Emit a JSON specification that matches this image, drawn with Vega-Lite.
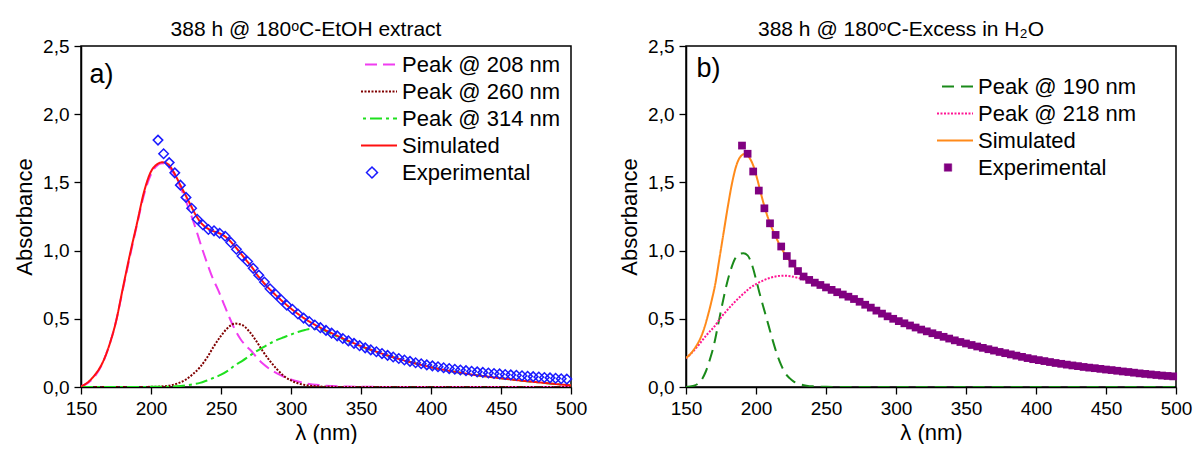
{
  "$schema": "https://vega.github.io/schema/vega-lite/v6.json",
  "background": "white",
  "padding": {"left": 12, "top": 18, "right": 0, "bottom": 0},
  "spacing": 29,
  "resolve": {"scale": {"color": "independent", "strokeDash": "independent", "x": "independent", "y": "independent"}, "legend": {"color": "independent"}},
  "config": {
    "font": "Liberation Sans",
    "view": {"stroke": "black", "strokeWidth": 1.5},
    "title": {"font": "Liberation Sans", "fontSize": 21, "fontWeight": "normal", "color": "black", "offset": -3},
    "axis": {
      "domainColor": "black", "domainWidth": 1.5, "tickColor": "black", "tickWidth": 1.3, "tickSize": 7,
      "labelFont": "Liberation Sans", "labelFontSize": 19, "labelColor": "black", "labelPadding": 5,
      "titleFont": "Liberation Sans", "titleFontSize": 22, "titleFontWeight": "normal", "titleColor": "black",
      "grid": false, "labelFlush": false, "labelOverlap": false
    },
    "legend": {"labelFont": "Liberation Sans", "labelFontSize": 22, "labelColor": "black"}
  },
  "datasets": {
    "a_curves": [
      {"series": "Peak @ 208 nm", "x": 150, "y": 0.005}, {"series": "Peak @ 208 nm", "x": 155, "y": 0.03}, {"series": "Peak @ 208 nm", "x": 160, "y": 0.08}, {"series": "Peak @ 208 nm", "x": 165, "y": 0.165}, {"series": "Peak @ 208 nm", "x": 170, "y": 0.3}, {"series": "Peak @ 208 nm", "x": 175, "y": 0.48}, {"series": "Peak @ 208 nm", "x": 180, "y": 0.72}, {"series": "Peak @ 208 nm", "x": 185, "y": 0.96}, {"series": "Peak @ 208 nm", "x": 190, "y": 1.19}, {"series": "Peak @ 208 nm", "x": 195, "y": 1.41}, {"series": "Peak @ 208 nm", "x": 200, "y": 1.56}, {"series": "Peak @ 208 nm", "x": 204, "y": 1.62}, {"series": "Peak @ 208 nm", "x": 208, "y": 1.64}, {"series": "Peak @ 208 nm", "x": 212, "y": 1.62}, {"series": "Peak @ 208 nm", "x": 216, "y": 1.57}, {"series": "Peak @ 208 nm", "x": 220, "y": 1.49}, {"series": "Peak @ 208 nm", "x": 224, "y": 1.39}, {"series": "Peak @ 208 nm", "x": 228, "y": 1.28}, {"series": "Peak @ 208 nm", "x": 232, "y": 1.16}, {"series": "Peak @ 208 nm", "x": 236, "y": 1.03}, {"series": "Peak @ 208 nm", "x": 240, "y": 0.91}, {"series": "Peak @ 208 nm", "x": 244, "y": 0.8}, {"series": "Peak @ 208 nm", "x": 248, "y": 0.71}, {"series": "Peak @ 208 nm", "x": 252, "y": 0.61}, {"series": "Peak @ 208 nm", "x": 256, "y": 0.51}, {"series": "Peak @ 208 nm", "x": 260, "y": 0.42}, {"series": "Peak @ 208 nm", "x": 264, "y": 0.35}, {"series": "Peak @ 208 nm", "x": 268, "y": 0.3}, {"series": "Peak @ 208 nm", "x": 272, "y": 0.26}, {"series": "Peak @ 208 nm", "x": 276, "y": 0.21}, {"series": "Peak @ 208 nm", "x": 280, "y": 0.17}, {"series": "Peak @ 208 nm", "x": 285, "y": 0.13}, {"series": "Peak @ 208 nm", "x": 290, "y": 0.1}, {"series": "Peak @ 208 nm", "x": 295, "y": 0.075}, {"series": "Peak @ 208 nm", "x": 300, "y": 0.055}, {"series": "Peak @ 208 nm", "x": 305, "y": 0.04}, {"series": "Peak @ 208 nm", "x": 310, "y": 0.028}, {"series": "Peak @ 208 nm", "x": 320, "y": 0.014}, {"series": "Peak @ 208 nm", "x": 330, "y": 0.007}, {"series": "Peak @ 208 nm", "x": 340, "y": 0.003}, {"series": "Peak @ 208 nm", "x": 360, "y": 0.001}, {"series": "Peak @ 208 nm", "x": 400, "y": 0}, {"series": "Peak @ 208 nm", "x": 450, "y": 0}, {"series": "Peak @ 208 nm", "x": 500, "y": 0},
      {"series": "Peak @ 260 nm", "x": 150, "y": 0}, {"series": "Peak @ 260 nm", "x": 200, "y": 0.001}, {"series": "Peak @ 260 nm", "x": 210, "y": 0.006}, {"series": "Peak @ 260 nm", "x": 215, "y": 0.014}, {"series": "Peak @ 260 nm", "x": 220, "y": 0.03}, {"series": "Peak @ 260 nm", "x": 225, "y": 0.055}, {"series": "Peak @ 260 nm", "x": 230, "y": 0.095}, {"series": "Peak @ 260 nm", "x": 235, "y": 0.145}, {"series": "Peak @ 260 nm", "x": 240, "y": 0.215}, {"series": "Peak @ 260 nm", "x": 245, "y": 0.3}, {"series": "Peak @ 260 nm", "x": 250, "y": 0.375}, {"series": "Peak @ 260 nm", "x": 255, "y": 0.435}, {"series": "Peak @ 260 nm", "x": 260, "y": 0.465}, {"series": "Peak @ 260 nm", "x": 265, "y": 0.455}, {"series": "Peak @ 260 nm", "x": 270, "y": 0.41}, {"series": "Peak @ 260 nm", "x": 275, "y": 0.34}, {"series": "Peak @ 260 nm", "x": 280, "y": 0.26}, {"series": "Peak @ 260 nm", "x": 285, "y": 0.19}, {"series": "Peak @ 260 nm", "x": 290, "y": 0.13}, {"series": "Peak @ 260 nm", "x": 295, "y": 0.08}, {"series": "Peak @ 260 nm", "x": 300, "y": 0.048}, {"series": "Peak @ 260 nm", "x": 305, "y": 0.027}, {"series": "Peak @ 260 nm", "x": 310, "y": 0.015}, {"series": "Peak @ 260 nm", "x": 320, "y": 0.004}, {"series": "Peak @ 260 nm", "x": 330, "y": 0.001}, {"series": "Peak @ 260 nm", "x": 350, "y": 0}, {"series": "Peak @ 260 nm", "x": 400, "y": 0}, {"series": "Peak @ 260 nm", "x": 500, "y": 0},
      {"series": "Peak @ 314 nm", "x": 150, "y": 0}, {"series": "Peak @ 314 nm", "x": 200, "y": 0.001}, {"series": "Peak @ 314 nm", "x": 210, "y": 0.002}, {"series": "Peak @ 314 nm", "x": 218, "y": 0.005}, {"series": "Peak @ 314 nm", "x": 225, "y": 0.012}, {"series": "Peak @ 314 nm", "x": 230, "y": 0.02}, {"series": "Peak @ 314 nm", "x": 235, "y": 0.03}, {"series": "Peak @ 314 nm", "x": 240, "y": 0.048}, {"series": "Peak @ 314 nm", "x": 245, "y": 0.068}, {"series": "Peak @ 314 nm", "x": 250, "y": 0.09}, {"series": "Peak @ 314 nm", "x": 255, "y": 0.12}, {"series": "Peak @ 314 nm", "x": 260, "y": 0.16}, {"series": "Peak @ 314 nm", "x": 265, "y": 0.19}, {"series": "Peak @ 314 nm", "x": 270, "y": 0.225}, {"series": "Peak @ 314 nm", "x": 275, "y": 0.26}, {"series": "Peak @ 314 nm", "x": 280, "y": 0.29}, {"series": "Peak @ 314 nm", "x": 285, "y": 0.32}, {"series": "Peak @ 314 nm", "x": 290, "y": 0.345}, {"series": "Peak @ 314 nm", "x": 295, "y": 0.365}, {"series": "Peak @ 314 nm", "x": 300, "y": 0.385}, {"series": "Peak @ 314 nm", "x": 305, "y": 0.403}, {"series": "Peak @ 314 nm", "x": 310, "y": 0.418}, {"series": "Peak @ 314 nm", "x": 314, "y": 0.426}, {"series": "Peak @ 314 nm", "x": 320, "y": 0.426}, {"series": "Peak @ 314 nm", "x": 330, "y": 0.383}, {"series": "Peak @ 314 nm", "x": 340, "y": 0.34}, {"series": "Peak @ 314 nm", "x": 350, "y": 0.298}, {"series": "Peak @ 314 nm", "x": 360, "y": 0.261}, {"series": "Peak @ 314 nm", "x": 370, "y": 0.227}, {"series": "Peak @ 314 nm", "x": 380, "y": 0.197}, {"series": "Peak @ 314 nm", "x": 390, "y": 0.17}, {"series": "Peak @ 314 nm", "x": 400, "y": 0.145}, {"series": "Peak @ 314 nm", "x": 410, "y": 0.124}, {"series": "Peak @ 314 nm", "x": 420, "y": 0.106}, {"series": "Peak @ 314 nm", "x": 430, "y": 0.09}, {"series": "Peak @ 314 nm", "x": 440, "y": 0.077}, {"series": "Peak @ 314 nm", "x": 450, "y": 0.064}, {"series": "Peak @ 314 nm", "x": 460, "y": 0.052}, {"series": "Peak @ 314 nm", "x": 470, "y": 0.041}, {"series": "Peak @ 314 nm", "x": 480, "y": 0.031}, {"series": "Peak @ 314 nm", "x": 490, "y": 0.021}, {"series": "Peak @ 314 nm", "x": 500, "y": 0.012},
      {"series": "Simulated", "x": 150, "y": 0.005}, {"series": "Simulated", "x": 155, "y": 0.035}, {"series": "Simulated", "x": 160, "y": 0.09}, {"series": "Simulated", "x": 165, "y": 0.17}, {"series": "Simulated", "x": 170, "y": 0.3}, {"series": "Simulated", "x": 175, "y": 0.48}, {"series": "Simulated", "x": 180, "y": 0.73}, {"series": "Simulated", "x": 185, "y": 0.975}, {"series": "Simulated", "x": 190, "y": 1.2}, {"series": "Simulated", "x": 195, "y": 1.43}, {"series": "Simulated", "x": 200, "y": 1.58}, {"series": "Simulated", "x": 204, "y": 1.63}, {"series": "Simulated", "x": 208, "y": 1.648}, {"series": "Simulated", "x": 212, "y": 1.635}, {"series": "Simulated", "x": 216, "y": 1.58}, {"series": "Simulated", "x": 220, "y": 1.5}, {"series": "Simulated", "x": 224, "y": 1.42}, {"series": "Simulated", "x": 228, "y": 1.34}, {"series": "Simulated", "x": 232, "y": 1.26}, {"series": "Simulated", "x": 236, "y": 1.2}, {"series": "Simulated", "x": 240, "y": 1.165}, {"series": "Simulated", "x": 244, "y": 1.145}, {"series": "Simulated", "x": 248, "y": 1.13}, {"series": "Simulated", "x": 252, "y": 1.11}, {"series": "Simulated", "x": 256, "y": 1.075}, {"series": "Simulated", "x": 260, "y": 1.03}, {"series": "Simulated", "x": 264, "y": 0.98}, {"series": "Simulated", "x": 268, "y": 0.93}, {"series": "Simulated", "x": 272, "y": 0.88}, {"series": "Simulated", "x": 276, "y": 0.82}, {"series": "Simulated", "x": 280, "y": 0.77}, {"series": "Simulated", "x": 290, "y": 0.665}, {"series": "Simulated", "x": 300, "y": 0.575}, {"series": "Simulated", "x": 310, "y": 0.5}, {"series": "Simulated", "x": 320, "y": 0.44}, {"series": "Simulated", "x": 330, "y": 0.39}, {"series": "Simulated", "x": 340, "y": 0.343}, {"series": "Simulated", "x": 350, "y": 0.3}, {"series": "Simulated", "x": 360, "y": 0.262}, {"series": "Simulated", "x": 370, "y": 0.228}, {"series": "Simulated", "x": 380, "y": 0.197}, {"series": "Simulated", "x": 390, "y": 0.17}, {"series": "Simulated", "x": 400, "y": 0.145}, {"series": "Simulated", "x": 410, "y": 0.124}, {"series": "Simulated", "x": 420, "y": 0.106}, {"series": "Simulated", "x": 430, "y": 0.09}, {"series": "Simulated", "x": 440, "y": 0.077}, {"series": "Simulated", "x": 450, "y": 0.064}, {"series": "Simulated", "x": 460, "y": 0.052}, {"series": "Simulated", "x": 470, "y": 0.041}, {"series": "Simulated", "x": 480, "y": 0.031}, {"series": "Simulated", "x": 490, "y": 0.021}, {"series": "Simulated", "x": 500, "y": 0.012}
    ],
    "a_exp": [
      {"x": 205, "y": 1.81}, {"x": 209, "y": 1.71}, {"x": 213, "y": 1.645}, {"x": 217, "y": 1.57}, {"x": 221, "y": 1.48}, {"x": 225, "y": 1.39}, {"x": 229, "y": 1.31}, {"x": 233, "y": 1.23}, {"x": 237, "y": 1.19}, {"x": 241, "y": 1.155}, {"x": 245, "y": 1.145}, {"x": 249, "y": 1.127}, {"x": 253, "y": 1.105}, {"x": 257, "y": 1.06}, {"x": 261, "y": 1.01}, {"x": 265, "y": 0.96}, {"x": 269, "y": 0.92}, {"x": 273, "y": 0.87}, {"x": 277, "y": 0.82}, {"x": 281, "y": 0.77}, {"x": 285, "y": 0.72}, {"x": 289, "y": 0.68}, {"x": 293, "y": 0.64}, {"x": 297, "y": 0.6}, {"x": 301, "y": 0.57}, {"x": 305, "y": 0.535}, {"x": 309, "y": 0.505}, {"x": 313, "y": 0.48}, {"x": 317, "y": 0.455}, {"x": 321, "y": 0.435}, {"x": 325, "y": 0.415}, {"x": 329, "y": 0.395}, {"x": 333, "y": 0.375}, {"x": 337, "y": 0.356}, {"x": 341, "y": 0.338}, {"x": 345, "y": 0.32}, {"x": 349, "y": 0.303}, {"x": 353, "y": 0.287}, {"x": 357, "y": 0.272}, {"x": 361, "y": 0.258}, {"x": 365, "y": 0.245}, {"x": 369, "y": 0.232}, {"x": 373, "y": 0.22}, {"x": 377, "y": 0.209}, {"x": 381, "y": 0.198}, {"x": 385, "y": 0.188}, {"x": 389, "y": 0.178}, {"x": 393, "y": 0.17}, {"x": 397, "y": 0.162}, {"x": 401, "y": 0.155}, {"x": 405, "y": 0.148}, {"x": 409, "y": 0.141}, {"x": 413, "y": 0.135}, {"x": 417, "y": 0.13}, {"x": 421, "y": 0.125}, {"x": 425, "y": 0.12}, {"x": 429, "y": 0.115}, {"x": 433, "y": 0.111}, {"x": 437, "y": 0.107}, {"x": 441, "y": 0.103}, {"x": 445, "y": 0.099}, {"x": 449, "y": 0.096}, {"x": 453, "y": 0.092}, {"x": 457, "y": 0.089}, {"x": 461, "y": 0.086}, {"x": 465, "y": 0.082}, {"x": 469, "y": 0.079}, {"x": 473, "y": 0.076}, {"x": 477, "y": 0.073}, {"x": 481, "y": 0.07}, {"x": 485, "y": 0.067}, {"x": 489, "y": 0.064}, {"x": 493, "y": 0.061}, {"x": 497, "y": 0.058}
    ],
    "b_curves": [
      {"series": "Peak @ 190 nm", "x": 150, "y": 0}, {"series": "Peak @ 190 nm", "x": 155, "y": 0.008}, {"series": "Peak @ 190 nm", "x": 158, "y": 0.02}, {"series": "Peak @ 190 nm", "x": 161, "y": 0.05}, {"series": "Peak @ 190 nm", "x": 164, "y": 0.11}, {"series": "Peak @ 190 nm", "x": 167, "y": 0.2}, {"series": "Peak @ 190 nm", "x": 170, "y": 0.31}, {"series": "Peak @ 190 nm", "x": 173, "y": 0.46}, {"series": "Peak @ 190 nm", "x": 176, "y": 0.61}, {"series": "Peak @ 190 nm", "x": 179, "y": 0.75}, {"series": "Peak @ 190 nm", "x": 182, "y": 0.86}, {"series": "Peak @ 190 nm", "x": 185, "y": 0.94}, {"series": "Peak @ 190 nm", "x": 188, "y": 0.975}, {"series": "Peak @ 190 nm", "x": 191, "y": 0.98}, {"series": "Peak @ 190 nm", "x": 194, "y": 0.965}, {"series": "Peak @ 190 nm", "x": 197, "y": 0.9}, {"series": "Peak @ 190 nm", "x": 200, "y": 0.79}, {"series": "Peak @ 190 nm", "x": 203, "y": 0.67}, {"series": "Peak @ 190 nm", "x": 206, "y": 0.56}, {"series": "Peak @ 190 nm", "x": 209, "y": 0.45}, {"series": "Peak @ 190 nm", "x": 212, "y": 0.34}, {"series": "Peak @ 190 nm", "x": 215, "y": 0.24}, {"series": "Peak @ 190 nm", "x": 218, "y": 0.16}, {"series": "Peak @ 190 nm", "x": 221, "y": 0.1}, {"series": "Peak @ 190 nm", "x": 224, "y": 0.065}, {"series": "Peak @ 190 nm", "x": 227, "y": 0.04}, {"series": "Peak @ 190 nm", "x": 231, "y": 0.022}, {"series": "Peak @ 190 nm", "x": 236, "y": 0.01}, {"series": "Peak @ 190 nm", "x": 242, "y": 0.004}, {"series": "Peak @ 190 nm", "x": 250, "y": 0.001}, {"series": "Peak @ 190 nm", "x": 270, "y": 0}, {"series": "Peak @ 190 nm", "x": 350, "y": 0}, {"series": "Peak @ 190 nm", "x": 500, "y": 0},
      {"series": "Peak @ 218 nm", "x": 150, "y": 0.21}, {"series": "Peak @ 218 nm", "x": 155, "y": 0.26}, {"series": "Peak @ 218 nm", "x": 160, "y": 0.32}, {"series": "Peak @ 218 nm", "x": 165, "y": 0.385}, {"series": "Peak @ 218 nm", "x": 170, "y": 0.44}, {"series": "Peak @ 218 nm", "x": 175, "y": 0.51}, {"series": "Peak @ 218 nm", "x": 180, "y": 0.57}, {"series": "Peak @ 218 nm", "x": 185, "y": 0.625}, {"series": "Peak @ 218 nm", "x": 190, "y": 0.675}, {"series": "Peak @ 218 nm", "x": 195, "y": 0.72}, {"series": "Peak @ 218 nm", "x": 200, "y": 0.755}, {"series": "Peak @ 218 nm", "x": 205, "y": 0.78}, {"series": "Peak @ 218 nm", "x": 210, "y": 0.8}, {"series": "Peak @ 218 nm", "x": 215, "y": 0.812}, {"series": "Peak @ 218 nm", "x": 220, "y": 0.816}, {"series": "Peak @ 218 nm", "x": 225, "y": 0.812}, {"series": "Peak @ 218 nm", "x": 230, "y": 0.8}, {"series": "Peak @ 218 nm", "x": 235, "y": 0.785}, {"series": "Peak @ 218 nm", "x": 240, "y": 0.768}, {"series": "Peak @ 218 nm", "x": 245, "y": 0.75}, {"series": "Peak @ 218 nm", "x": 250, "y": 0.732}, {"series": "Peak @ 218 nm", "x": 260, "y": 0.69}, {"series": "Peak @ 218 nm", "x": 270, "y": 0.645}, {"series": "Peak @ 218 nm", "x": 280, "y": 0.593}, {"series": "Peak @ 218 nm", "x": 290, "y": 0.538}, {"series": "Peak @ 218 nm", "x": 300, "y": 0.492}, {"series": "Peak @ 218 nm", "x": 310, "y": 0.451}, {"series": "Peak @ 218 nm", "x": 320, "y": 0.414}, {"series": "Peak @ 218 nm", "x": 330, "y": 0.381}, {"series": "Peak @ 218 nm", "x": 340, "y": 0.348}, {"series": "Peak @ 218 nm", "x": 350, "y": 0.319}, {"series": "Peak @ 218 nm", "x": 360, "y": 0.292}, {"series": "Peak @ 218 nm", "x": 370, "y": 0.267}, {"series": "Peak @ 218 nm", "x": 380, "y": 0.244}, {"series": "Peak @ 218 nm", "x": 390, "y": 0.221}, {"series": "Peak @ 218 nm", "x": 400, "y": 0.2}, {"series": "Peak @ 218 nm", "x": 410, "y": 0.183}, {"series": "Peak @ 218 nm", "x": 420, "y": 0.167}, {"series": "Peak @ 218 nm", "x": 430, "y": 0.153}, {"series": "Peak @ 218 nm", "x": 440, "y": 0.14}, {"series": "Peak @ 218 nm", "x": 450, "y": 0.128}, {"series": "Peak @ 218 nm", "x": 460, "y": 0.117}, {"series": "Peak @ 218 nm", "x": 470, "y": 0.105}, {"series": "Peak @ 218 nm", "x": 480, "y": 0.094}, {"series": "Peak @ 218 nm", "x": 490, "y": 0.084}, {"series": "Peak @ 218 nm", "x": 500, "y": 0.076},
      {"series": "Simulated", "x": 150, "y": 0.212}, {"series": "Simulated", "x": 153, "y": 0.24}, {"series": "Simulated", "x": 156, "y": 0.28}, {"series": "Simulated", "x": 159, "y": 0.33}, {"series": "Simulated", "x": 162, "y": 0.4}, {"series": "Simulated", "x": 165, "y": 0.5}, {"series": "Simulated", "x": 168, "y": 0.62}, {"series": "Simulated", "x": 171, "y": 0.76}, {"series": "Simulated", "x": 174, "y": 0.95}, {"series": "Simulated", "x": 177, "y": 1.14}, {"series": "Simulated", "x": 180, "y": 1.33}, {"series": "Simulated", "x": 183, "y": 1.5}, {"series": "Simulated", "x": 186, "y": 1.625}, {"series": "Simulated", "x": 189, "y": 1.69}, {"series": "Simulated", "x": 192, "y": 1.708}, {"series": "Simulated", "x": 195, "y": 1.685}, {"series": "Simulated", "x": 198, "y": 1.625}, {"series": "Simulated", "x": 201, "y": 1.52}, {"series": "Simulated", "x": 204, "y": 1.4}, {"series": "Simulated", "x": 207, "y": 1.29}, {"series": "Simulated", "x": 210, "y": 1.2}, {"series": "Simulated", "x": 214, "y": 1.105}, {"series": "Simulated", "x": 218, "y": 1.02}, {"series": "Simulated", "x": 222, "y": 0.955}, {"series": "Simulated", "x": 226, "y": 0.9}, {"series": "Simulated", "x": 230, "y": 0.85}, {"series": "Simulated", "x": 234, "y": 0.81}, {"series": "Simulated", "x": 238, "y": 0.785}, {"series": "Simulated", "x": 242, "y": 0.765}, {"series": "Simulated", "x": 246, "y": 0.748}, {"series": "Simulated", "x": 250, "y": 0.732}, {"series": "Simulated", "x": 260, "y": 0.69}, {"series": "Simulated", "x": 270, "y": 0.645}, {"series": "Simulated", "x": 280, "y": 0.593}, {"series": "Simulated", "x": 290, "y": 0.538}, {"series": "Simulated", "x": 300, "y": 0.492}, {"series": "Simulated", "x": 310, "y": 0.451}, {"series": "Simulated", "x": 320, "y": 0.414}, {"series": "Simulated", "x": 330, "y": 0.381}, {"series": "Simulated", "x": 340, "y": 0.348}, {"series": "Simulated", "x": 350, "y": 0.319}, {"series": "Simulated", "x": 360, "y": 0.292}, {"series": "Simulated", "x": 370, "y": 0.267}, {"series": "Simulated", "x": 380, "y": 0.244}, {"series": "Simulated", "x": 390, "y": 0.221}, {"series": "Simulated", "x": 400, "y": 0.2}, {"series": "Simulated", "x": 410, "y": 0.183}, {"series": "Simulated", "x": 420, "y": 0.167}, {"series": "Simulated", "x": 430, "y": 0.153}, {"series": "Simulated", "x": 440, "y": 0.14}, {"series": "Simulated", "x": 450, "y": 0.128}, {"series": "Simulated", "x": 460, "y": 0.117}, {"series": "Simulated", "x": 470, "y": 0.105}, {"series": "Simulated", "x": 480, "y": 0.094}, {"series": "Simulated", "x": 490, "y": 0.084}, {"series": "Simulated", "x": 500, "y": 0.076}
    ],
    "b_exp": [
      {"x": 190, "y": 1.77}, {"x": 194, "y": 1.71}, {"x": 198, "y": 1.58}, {"x": 202, "y": 1.44}, {"x": 206, "y": 1.31}, {"x": 210, "y": 1.2}, {"x": 214, "y": 1.115}, {"x": 218, "y": 1.03}, {"x": 222, "y": 0.96}, {"x": 226, "y": 0.905}, {"x": 230, "y": 0.85}, {"x": 234, "y": 0.81}, {"x": 238, "y": 0.785}, {"x": 242, "y": 0.765}, {"x": 246, "y": 0.748}, {"x": 250, "y": 0.73}, {"x": 254, "y": 0.712}, {"x": 258, "y": 0.695}, {"x": 262, "y": 0.678}, {"x": 266, "y": 0.662}, {"x": 270, "y": 0.645}, {"x": 274, "y": 0.625}, {"x": 278, "y": 0.603}, {"x": 282, "y": 0.582}, {"x": 286, "y": 0.56}, {"x": 290, "y": 0.538}, {"x": 294, "y": 0.518}, {"x": 298, "y": 0.5}, {"x": 302, "y": 0.483}, {"x": 306, "y": 0.467}, {"x": 310, "y": 0.451}, {"x": 314, "y": 0.436}, {"x": 318, "y": 0.421}, {"x": 322, "y": 0.408}, {"x": 326, "y": 0.394}, {"x": 330, "y": 0.381}, {"x": 334, "y": 0.368}, {"x": 338, "y": 0.355}, {"x": 342, "y": 0.342}, {"x": 346, "y": 0.33}, {"x": 350, "y": 0.319}, {"x": 354, "y": 0.308}, {"x": 358, "y": 0.297}, {"x": 362, "y": 0.287}, {"x": 366, "y": 0.277}, {"x": 370, "y": 0.267}, {"x": 374, "y": 0.257}, {"x": 378, "y": 0.248}, {"x": 382, "y": 0.239}, {"x": 386, "y": 0.23}, {"x": 390, "y": 0.221}, {"x": 394, "y": 0.212}, {"x": 398, "y": 0.204}, {"x": 402, "y": 0.197}, {"x": 406, "y": 0.19}, {"x": 410, "y": 0.183}, {"x": 414, "y": 0.176}, {"x": 418, "y": 0.17}, {"x": 422, "y": 0.164}, {"x": 426, "y": 0.158}, {"x": 430, "y": 0.153}, {"x": 434, "y": 0.147}, {"x": 438, "y": 0.142}, {"x": 442, "y": 0.138}, {"x": 446, "y": 0.133}, {"x": 450, "y": 0.128}, {"x": 454, "y": 0.124}, {"x": 458, "y": 0.119}, {"x": 462, "y": 0.114}, {"x": 466, "y": 0.11}, {"x": 470, "y": 0.105}, {"x": 474, "y": 0.1}, {"x": 478, "y": 0.096}, {"x": 482, "y": 0.092}, {"x": 486, "y": 0.088}, {"x": 490, "y": 0.084}, {"x": 494, "y": 0.081}, {"x": 498, "y": 0.078}
    ]
  },
  "hconcat": [
    {
      "title": {"text": "388 h @ 180ᵒC-EtOH extract", "dx": -20},
      "width": 490,
      "height": 341,
      "layer": [
        {
          "data": {"name": "a_curves"},
          "mark": {"type": "line", "strokeWidth": 2, "interpolate": "monotone", "clip": true},
          "encoding": {
            "x": {"field": "x", "type": "quantitative", "scale": {"domain": [150, 500], "nice": false},
              "axis": {"title": "λ (nm)", "values": [150, 175, 200, 225, 250, 275, 300, 325, 350, 375, 400, 425, 450, 475, 500], "labelExpr": "datum.value % 50 === 0 ? datum.label : ''", "titlePadding": 4}},
            "y": {"field": "y", "type": "quantitative", "scale": {"domain": [0, 2.5], "nice": false},
              "axis": {"title": "Absorbance", "values": [0, 0.25, 0.5, 0.75, 1, 1.25, 1.5, 1.75, 2, 2.25, 2.5], "labelExpr": "(datum.value * 2) % 1 === 0 ? replace(format(datum.value, '.1f'), '.', ',') : ''", "titlePadding": 6}},
            "color": {"field": "series", "type": "nominal",
              "scale": {"domain": ["Peak @ 208 nm", "Peak @ 260 nm", "Peak @ 314 nm", "Simulated", "Experimental"], "range": ["#F03CF0", "#800000", "#1EE01E", "#FF1010", "#1A1AFF"]},
              "legend": {"title": null, "orient": "none", "legendX": 280, "legendY": 7, "symbolSize": 2500, "symbolStrokeWidth": 2, "symbolOffset": 0, "labelOffset": 19, "rowPadding": 4, "clipHeight": 23,
                "encode": {"symbols": {"update": {
                  "shape": {"signal": "datum.value === 'Experimental' ? 'M-0.22,0L0,0.22L0.22,0L0,-0.22Z' : 'stroke'"},
                  "strokeWidth": {"signal": "datum.value === 'Experimental' ? 1.5 : 2"},
                  "fill": {"value": "transparent"},
                  "strokeDash": {"signal": "datum.value === 'Peak @ 208 nm' ? [12, 6] : datum.value === 'Peak @ 260 nm' ? [2, 1.5] : datum.value === 'Peak @ 314 nm' ? [12, 4, 3, 4] : [1, 0]"}
                }}}}},
            "strokeDash": {"field": "series", "type": "nominal", "legend": null,
              "scale": {"domain": ["Peak @ 208 nm", "Peak @ 260 nm", "Peak @ 314 nm", "Simulated"], "range": [[12, 6], [2, 1.5], [12, 4, 3, 4], [1, 0]]}}
          }
        },
        {
          "data": {"name": "a_exp"},
          "mark": {"type": "point", "shape": "diamond", "filled": false, "stroke": "#1A1AFF", "strokeWidth": 1.5, "size": 90, "opacity": 1},
          "encoding": {
            "x": {"field": "x", "type": "quantitative"},
            "y": {"field": "y", "type": "quantitative"}
          }
        },
        {
          "data": {"values": [{}]},
          "mark": {"type": "text", "text": "a)", "fontSize": 27, "align": "left", "baseline": "middle", "font": "Liberation Sans", "color": "black"},
          "encoding": {"x": {"datum": 156}, "y": {"datum": 2.29}}
        }
      ]
    },
    {
      "title": {"text": "388 h @ 180ᵒC-Excess in H₂O", "dx": -30},
      "width": 490,
      "height": 341,
      "layer": [
        {
          "data": {"name": "b_curves"},
          "mark": {"type": "line", "strokeWidth": 2, "interpolate": "monotone", "clip": true},
          "encoding": {
            "x": {"field": "x", "type": "quantitative", "scale": {"domain": [150, 500], "nice": false},
              "axis": {"title": "λ (nm)", "values": [150, 175, 200, 225, 250, 275, 300, 325, 350, 375, 400, 425, 450, 475, 500], "labelExpr": "datum.value % 50 === 0 ? datum.label : ''", "titlePadding": 4}},
            "y": {"field": "y", "type": "quantitative", "scale": {"domain": [0, 2.5], "nice": false},
              "axis": {"title": "Absorbance", "values": [0, 0.25, 0.5, 0.75, 1, 1.25, 1.5, 1.75, 2, 2.25, 2.5], "labelExpr": "(datum.value * 2) % 1 === 0 ? replace(format(datum.value, '.1f'), '.', ',') : ''", "titlePadding": 6}},
            "color": {"field": "series", "type": "nominal",
              "scale": {"domain": ["Peak @ 190 nm", "Peak @ 218 nm", "Simulated", "Experimental"], "range": ["#1A8A1A", "#FF1493", "#FF8A1A", "#800080"]},
              "legend": {"title": null, "orient": "none", "legendX": 251, "legendY": 29, "symbolSize": 2500, "symbolStrokeWidth": 2, "symbolOffset": 0, "labelOffset": 19, "rowPadding": 4, "clipHeight": 23,
                "encode": {"symbols": {"update": {
                  "shape": {"signal": "datum.value === 'Experimental' ? 'M-0.15,-0.15H0.15V0.15H-0.15Z' : 'stroke'"},
                  "fill": {"signal": "datum.value === 'Experimental' ? '#800080' : 'transparent'"},
                  "strokeWidth": {"signal": "datum.value === 'Experimental' ? 0.5 : 2"},
                  "strokeDash": {"signal": "datum.value === 'Peak @ 190 nm' ? [12, 7] : datum.value === 'Peak @ 218 nm' ? [2, 1.5] : [1, 0]"}
                }}}}},
            "strokeDash": {"field": "series", "type": "nominal", "legend": null,
              "scale": {"domain": ["Peak @ 190 nm", "Peak @ 218 nm", "Simulated"], "range": [[12, 7], [2, 1.5], [1, 0]]}}
          }
        },
        {
          "data": {"name": "b_exp"},
          "mark": {"type": "point", "shape": "square", "filled": true, "color": "#800080", "size": 60, "opacity": 1},
          "encoding": {
            "x": {"field": "x", "type": "quantitative"},
            "y": {"field": "y", "type": "quantitative"}
          }
        },
        {
          "data": {"values": [{}]},
          "mark": {"type": "text", "text": "b)", "fontSize": 27, "align": "left", "baseline": "middle", "font": "Liberation Sans", "color": "black"},
          "encoding": {"x": {"datum": 157.5}, "y": {"datum": 2.33}}
        }
      ]
    }
  ]
}
